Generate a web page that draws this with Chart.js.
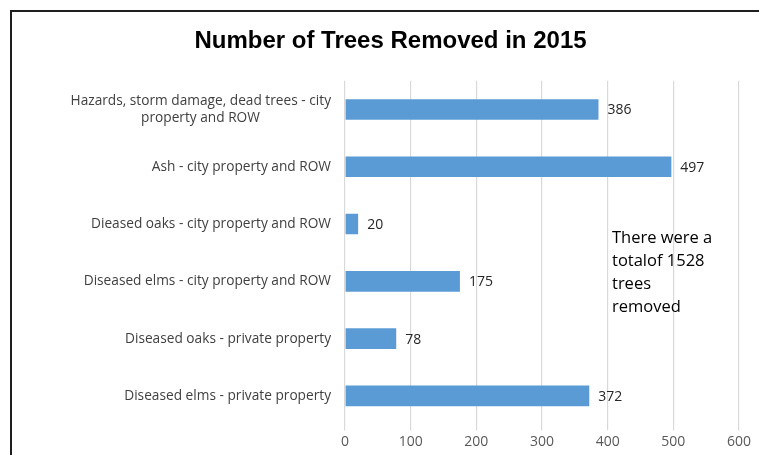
<!DOCTYPE html>
<html>
<head>
<meta charset="utf-8">
<script src="https://cdn.jsdelivr.net/npm/chart.js@4"></script>
<style>
  body { margin: 0; background: #fff; }
  #frame {
    position: absolute; left: 10px; top: 10px;
    width: 800px; height: 500px;
    border: 2px solid #1e1e1e; background: #fff;
  }
  #wrap { position: absolute; left: 0; top: 0; width: 759px; height: 455px; }
</style>
</head>
<body>
<div id="frame"></div>
<div id="wrap"><canvas id="treesChart"></canvas></div>
<script>
const categories = [
  ['Hazards, storm damage, dead trees - city', 'property and ROW\u00a0\u00a0\u00a0\u00a0\u00a0\u00a0\u00a0\u00a0\u00a0\u00a0\u00a0\u00a0\u00a0\u00a0\u00a0\u00a0\u00a0\u00a0\u00a0\u00a0'],
  'Ash - city property and ROW',
  'Dieased oaks - city property and ROW',
  'Diseased elms - city property and ROW',
  'Diseased oaks - private property',
  'Diseased elms - private property'
];
const treesRemoved = [386, 497, 20, 175, 78, 372];
const noteLines = ['There were a', 'totalof 1528', 'trees', 'removed'];

const labelFont = '"Open Sans", sans-serif';

// value next to the end of each bar
const valueLabels = {
  id: 'valueLabels',
  afterDatasetsDraw(chart) {
    const ctx = chart.ctx;
    const meta = chart.getDatasetMeta(0);
    ctx.save();
    ctx.font = '14px ' + labelFont;
    ctx.fillStyle = '#262626';
    ctx.textAlign = 'left';
    ctx.textBaseline = 'middle';
    meta.data.forEach((bar, i) => {
      ctx.fillText(treesRemoved[i], bar.x + 9, bar.y + 1);
    });
    ctx.restore();
  }
};

// the text box on the right
const totalNote = {
  id: 'totalNote',
  afterDraw(chart) {
    const ctx = chart.ctx;
    ctx.save();
    ctx.font = '16.5px ' + labelFont;
    ctx.fillStyle = '#000';
    ctx.textBaseline = 'middle';
    noteLines.forEach((line, i) => {
      ctx.fillText(line, 612, 238 + i * 23);
    });
    ctx.restore();
  }
};

new Chart(document.getElementById('treesChart'), {
  type: 'bar',
  data: {
    labels: categories,
    datasets: [{
      data: treesRemoved,
      backgroundColor: '#5b9bd5',
      borderWidth: 0,
      barPercentage: 0.36,
      categoryPercentage: 1
    }]
  },
  plugins: [valueLabels, totalNote],
  options: {
    indexAxis: 'y',
    responsive: true,
    maintainAspectRatio: false,
    animation: false,
    layout: { padding: { left: 42, right: 20, top: 0, bottom: 0 } },
    plugins: {
      legend: { display: false },
      tooltip: { enabled: false },
      title: {
        display: true,
        text: 'Number of Trees Removed in 2015',
        color: '#000',
        font: { family: '"Liberation Sans", Arial, sans-serif', size: 24, weight: 'bold' },
        padding: { top: 27, bottom: 25 }
      }
    },
    scales: {
      x: {
        min: 0,
        max: 600,
        ticks: { stepSize: 100, color: '#595959', font: { family: labelFont, size: 14 }, padding: 3 },
        grid: { color: '#d9d9d9', lineWidth: 1.2, tickLength: 6 },
        border: { display: false }
      },
      y: {
        ticks: { color: '#404040', font: { family: labelFont, size: 13.7 }, padding: 14 },
        grid: { display: false, drawTicks: false },
        border: { display: false },
        afterFit(scale) { scale.width = 303; }
      }
    }
  }
});
</script>
</body>
</html>
